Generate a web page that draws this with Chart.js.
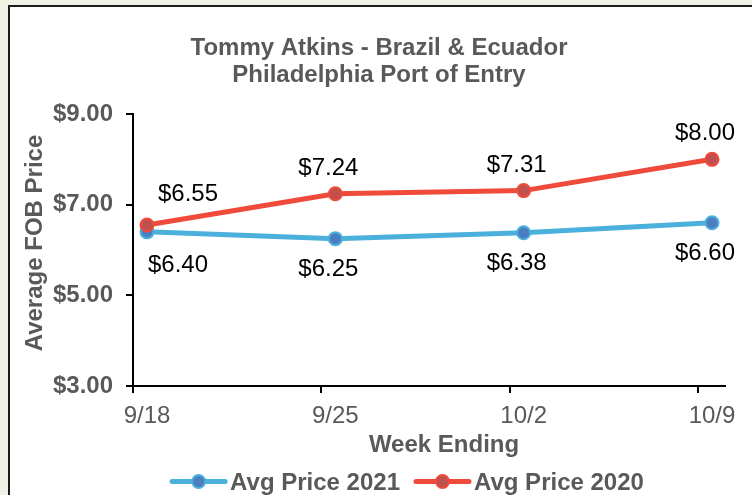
<!DOCTYPE html>
<html><head><meta charset="utf-8">
<script src="https://cdn.jsdelivr.net/npm/chart.js@4/dist/chart.umd.min.js"></script>
<style>
html,body{margin:0;padding:0;background:#f1f1e6;width:752px;height:495px;overflow:hidden;}
#frame{position:absolute;left:8px;top:5px;width:800px;height:600px;background:#fff;border:2px solid #1c1c1c;}
#wrap{position:absolute;left:0;top:0;width:752px;height:495px;}
</style></head><body>
<div id="frame"></div>
<div id="wrap"><canvas id="c" width="752" height="495"></canvas></div>
<script>
const categories = ['9/18', '9/25', '10/2', '10/9'];
const price2021 = [6.40, 6.25, 6.38, 6.60];
const price2020 = [6.55, 7.24, 7.31, 8.00];
const yTicks = [3, 5, 7, 9];
const seriesNames = ['Avg Price 2021', 'Avg Price 2020'];
const titleLines = ['Tommy Atkins - Brazil & Ecuador', 'Philadelphia Port of Entry'];
const xTitle = 'Week Ending';
const yTitle = 'Average FOB Price';

const FONT = '"Liberation Sans", Arial, Helvetica, sans-serif';
const GRAY = '#595959';
const X_MIN = -0.0743, X_MAX = 3.069;

const money = v => '$' + Number(v).toFixed(2);

const extras = {
  id: 'extras',
  afterDraw(chart) {
    const ctx = chart.ctx;
    const ca = chart.chartArea;
    const xs = chart.scales.x;
    ctx.save();
    // x tick marks (offset from points) and axis extension
    ctx.strokeStyle = '#000';
    ctx.lineWidth = 2;
    ctx.beginPath();
    ctx.moveTo(ca.left - 7, ca.bottom);
    ctx.lineTo(ca.left, ca.bottom);
    categories.forEach((_, i) => {
      const px = Math.round(xs.getPixelForValue(X_MIN + i));
      ctx.moveTo(px, ca.bottom);
      ctx.lineTo(px, ca.bottom + 7);
    });
    ctx.stroke();

    // data labels
    ctx.fillStyle = '#000';
    ctx.font = '24px ' + FONT;
    ctx.textBaseline = 'alphabetic';
    ctx.textAlign = 'center';
    chart.data.datasets.forEach((ds, di) => {
      const meta = chart.getDatasetMeta(di);
      const cfg = ds.labelCfg;
      meta.data.forEach((pt, i) => {
        const dx = i === 0 ? cfg.firstDx : -7;
        const dy = i === 0 ? cfg.firstDy : cfg.dy;
        ctx.fillText(money(ds.data[i].y), pt.x + dx, pt.y + dy + 8.6);
      });
    });

    // title
    ctx.fillStyle = GRAY;
    ctx.font = 'bold 24px ' + FONT;
    titleLines.forEach((t, i) => ctx.fillText(t, 379, 55 + i * 26.8));

    // x title
    ctx.fillText(xTitle, (ca.left + ca.right) / 2 + 15, 452);

    // y title
    ctx.save();
    ctx.translate(42, (ca.top + ca.bottom) / 2 - 7);
    ctx.rotate(-Math.PI / 2);
    ctx.fillText(yTitle, 0, 0);
    ctx.restore();

    // legend
    const items = chart.data.datasets.map(ds => ({ds, w: 57 + 3 + ctx.measureText(ds.label).width}));
    const gap = 14;
    const total = items.reduce((a, b) => a + b.w, 0) + gap * (items.length - 1);
    let x = 407 - total / 2;
    const ly = 481.5;
    items.forEach(it => {
      const ds = it.ds;
      ctx.strokeStyle = ds.borderColor;
      ctx.lineWidth = 5;
      ctx.lineCap = 'round';
      ctx.beginPath();
      ctx.moveTo(x + 2, ly);
      ctx.lineTo(x + 55, ly);
      ctx.stroke();
      ctx.beginPath();
      ctx.arc(x + 28.5, ly, 6.5, 0, Math.PI * 2);
      ctx.fillStyle = ds.pointBackgroundColor;
      ctx.fill();
      ctx.lineWidth = 2;
      ctx.strokeStyle = ds.borderColor;
      ctx.stroke();
      ctx.fillStyle = GRAY;
      ctx.textAlign = 'left';
      ctx.fillText(ds.label, x + 60, ly + 8.6);
      x += it.w + gap;
    });
    ctx.restore();
  }
};

new Chart(document.getElementById('c'), {
  type: 'line',
  data: {
    datasets: [
      {
        label: seriesNames[0],
        data: price2021.map((v, i) => ({x: i, y: v})),
        borderColor: '#4cb0dc',
        backgroundColor: '#4cb0dc',
        pointBackgroundColor: '#4a7ec0',
        pointBorderColor: '#4cb0dc',
        borderWidth: 5,
        pointRadius: 6.5,
        pointBorderWidth: 2,
        tension: 0,
        order: 1,
        labelCfg: {dy: 28.5, firstDx: 31, firstDy: 32}
      },
      {
        label: seriesNames[1],
        data: price2020.map((v, i) => ({x: i, y: v})),
        borderColor: '#f04a3a',
        backgroundColor: '#f04a3a',
        pointBackgroundColor: '#c0504d',
        pointBorderColor: '#f04a3a',
        borderWidth: 5,
        pointRadius: 6.5,
        pointBorderWidth: 2,
        tension: 0,
        order: 0,
        labelCfg: {dy: -27.5, firstDx: 41, firstDy: -32.5}
      }
    ]
  },
  options: {
    responsive: false,
    animation: false,
    devicePixelRatio: 1,
    layout: {padding: {top: 114, right: 27, left: 0, bottom: 0}},
    plugins: {legend: {display: false}, title: {display: false}, tooltip: {enabled: false}},
    scales: {
      x: {
        type: 'linear',
        min: X_MIN,
        max: X_MAX,
        offset: false,
        afterBuildTicks: s => { s.ticks = categories.map((_, i) => ({value: i})); },
        afterFit: s => { s.height = 109; },
        ticks: {
          callback: v => categories[v],
          color: GRAY,
          font: {family: FONT, size: 24},
          padding: 8,
          maxRotation: 0,
          autoSkip: false
        },
        grid: {display: false},
        border: {display: true, color: '#000', width: 2}
      },
      y: {
        min: 3,
        max: 9,
        afterBuildTicks: s => { s.ticks = yTicks.map(v => ({value: v})); },
        afterFit: s => { s.width = 133; },
        ticks: {
          callback: v => money(v),
          color: GRAY,
          font: {family: FONT, size: 24, weight: 'bold'},
          padding: 13
        },
        grid: {drawOnChartArea: false, drawTicks: true, tickLength: 7, color: '#000', lineWidth: 2},
        border: {display: true, color: '#000', width: 2}
      }
    }
  },
  plugins: [extras]
});
</script>
</body></html>
